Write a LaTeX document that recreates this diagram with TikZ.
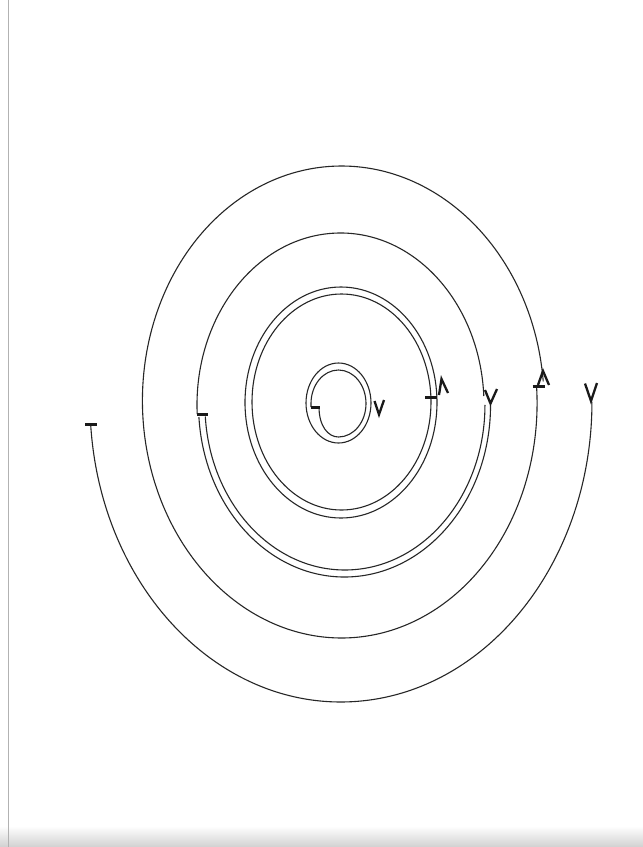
\documentclass[tikz,border=0pt]{standalone}
\begin{document}
\begin{tikzpicture}[x=1pt,y=-1pt,
  curve/.style={line width=1.1pt, draw=black!85},
  tickmark/.style={line width=3pt, draw=black!90, line cap=butt},
  vmark/.style={line width=2.3pt, draw=black!90, line join=miter}]
\useasboundingbox (0,0) rectangle (643,847);
\fill[white] (0,0) rectangle (643,847);
\shade[top color=white, bottom color=black!18] (0,826) rectangle (643,847);
\draw[black!30, line width=1pt] (8,0) -- (8,847);

% group 1 (innermost)
\draw[curve] (338.5,403) ellipse [x radius=32.5, y radius=40];
\draw[curve] (319,407) .. controls (319,426) and (328,437) .. (338.5,437)
  arc[start angle=90, end angle=-180, x radius=27.5, y radius=33.5] -- (311,407);
\draw[tickmark] (310.5,407) -- (320,407);
\draw[vmark] (374.5,401) -- (379,414.5) -- (384,400);

% group 2 (double ring)
\draw[curve] (341,402.5) ellipse [x radius=96, y radius=115.5];
\draw[curve] (341.5,402) ellipse [x radius=89.5, y radius=108];
\draw[tickmark] (425,397) -- (437,397);
\draw[vmark] (439,395) -- (441.5,379) -- (448,393);

% group 3
\draw[curve] (197.2,414) arc[start angle=177, end angle=357, x radius=143.5, y radius=172];
\draw[curve] (198.9,417) arc[start angle=176, end angle=0, x radius=146, y radius=172];
\draw[curve] (205.3,416.5) arc[start angle=176, end angle=0, x radius=140, y radius=165];
\draw[tickmark] (197,414.5) -- (207.5,414.5);
\draw[vmark] (485,390) -- (490.5,403.5) -- (497,389);

% group 4 (large loop)
\draw[curve] plot[domain=-4:355, samples=200, smooth]
  ({341.5+(195.5+7*(\x+4)/359)*cos(\x)}, {402+236*sin(\x)});
\draw[tickmark] (532.5,386.5) -- (545,386.5);
\draw[vmark] (538,385) -- (543,371) -- (549,385);

% group 5 (outer half arc)
\draw[curve] (90.7,425) arc[start angle=175.6, end angle=0, x radius=251, y radius=300];
\draw[tickmark] (85,424) -- (96.5,424);
\draw[vmark] (585,383.5) -- (591,401) -- (597,383);
\end{tikzpicture}
\end{document}
